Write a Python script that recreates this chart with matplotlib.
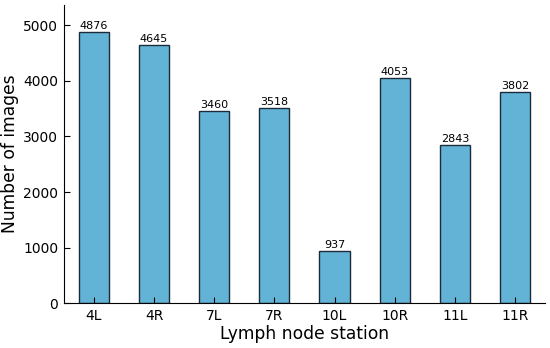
import matplotlib
matplotlib.use("Agg")
import matplotlib.pyplot as plt

stations = ["4L", "4R", "7L", "7R", "10L", "10R", "11L", "11R"]
counts = [4876, 4645, 3460, 3518, 937, 4053, 2843, 3802]

fig = plt.figure(figsize=(5.5, 3.48), dpi=100)
ax = fig.add_axes([0.116, 0.129, 0.875, 0.857])
x = list(range(len(stations)))
bars = ax.bar(x, counts, width=0.5, color="#63b3d6", edgecolor="#1c2b3a", linewidth=1.0)
for xi, c in zip(x, counts):
    ax.text(xi, c + 20, str(c), ha="center", va="bottom", fontsize=8)
ax.set_xticks(x)
ax.set_xticklabels(stations)
ax.set_xlim(-0.5, 7.5)
ax.set_ylim(0, 5370)
ax.set_yticks([0, 1000, 2000, 3000, 4000, 5000])
ax.tick_params(direction="in", labelsize=10, length=4, pad=4)
ax.spines["top"].set_visible(False)
ax.spines["right"].set_visible(False)
ax.set_xlabel("Lymph node station", fontsize=12.3, labelpad=2)
ax.set_ylabel("Number of images", fontsize=12.3, labelpad=3)
fig.savefig("out.png", dpi=100)
